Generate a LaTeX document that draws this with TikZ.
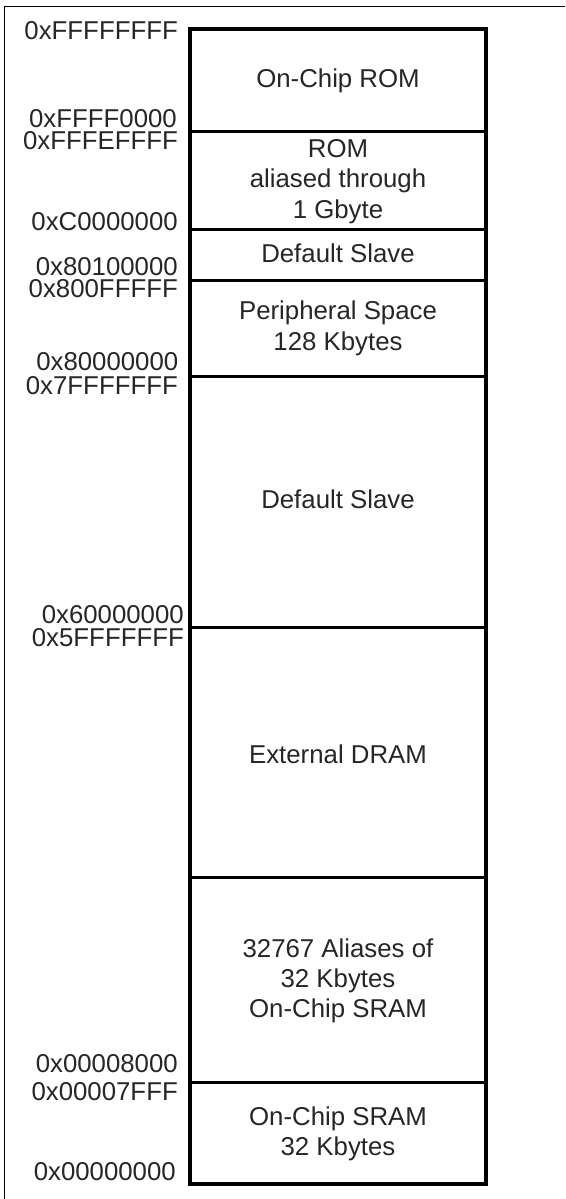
\documentclass[tikz,border=0pt]{standalone}
\usepackage{fontspec}
\setmainfont{Liberation Sans}
\begin{document}
\begin{tikzpicture}[x=1pt,y=-1pt,
  txt/.style={font=\fontsize{25.8}{30.5}\selectfont, inner sep=0pt, text=black!85},
  addr/.style={txt, anchor=base east},
  cell/.style={txt, anchor=base},
  col/.style={line width=3.4pt, line join=miter},
  div/.style={line width=3pt},
  frame/.style={line width=1.6pt}]
\useasboundingbox (0,0) rectangle (565,1199);
% outer frame (top and left)
\coordinate (fa) at (4.5,1199);
\coordinate (fb) at (4.5,6.5);
\coordinate (fc) at (565,6.5);
\draw[frame] (fa) -- (fb) -- (fc);
% column
\coordinate (tl) at (190,29);
\coordinate (br) at (486,1184);
\draw[col] (tl) rectangle (br);
\foreach \y/\n in {131/d1,229/d2,280/d3,376/d4,627/d5,877/d6,1082/d7}{
  \coordinate (\n l) at (190,\y);
  \coordinate (\n r) at (486,\y);
  \draw[div] (\n l) -- (\n r);
}
% address labels
\node[addr] (a1) at (178,40) {0xFFFFFFFF};
\node[addr] (a2) at (177,127) {0xFFFF0000};
\node[addr] (a3) at (178,149) {0xFFFEFFFF};
\node[addr] (a4) at (178,230) {0xC0000000};
\node[addr] (a5) at (178,275) {0x80100000};
\node[addr] (a6) at (178,297) {0x800FFFFF};
\node[addr] (a7) at (178.5,370) {0x80000000};
\node[addr] (a8) at (178,394) {0x7FFFFFFF};
\node[addr] (a9) at (184,623) {0x60000000};
\node[addr] (a10) at (184,646) {0x5FFFFFFF};
\node[addr] (a11) at (178,1072) {0x00008000};
\node[addr] (a12) at (178,1100) {0x00007FFF};
\node[addr] (a13) at (176,1180) {0x00000000};
% cell texts
\node[cell] (c1) at (338,87) {On-Chip ROM};
\node[cell] (c2a) at (338,157) {ROM};
\node[cell] (c2b) at (338,187) {aliased through};
\node[cell] (c2c) at (338,218) {1 Gbyte};
\node[cell] (c3) at (338,262) {Default Slave};
\node[cell] (c4a) at (338,319) {Peripheral Space};
\node[cell] (c4b) at (338,350) {128 Kbytes};
\node[cell] (c5) at (338,508) {Default Slave};
\node[cell] (c6) at (338,763) {External DRAM};
\node[cell] (c7a) at (338,957) {32767 Aliases of};
\node[cell] (c7b) at (338,987) {32 Kbytes};
\node[cell] (c7c) at (338,1017) {On-Chip SRAM};
\node[cell] (c8a) at (338,1125) {On-Chip SRAM};
\node[cell] (c8b) at (338,1155) {32 Kbytes};
\end{tikzpicture}
\end{document}
